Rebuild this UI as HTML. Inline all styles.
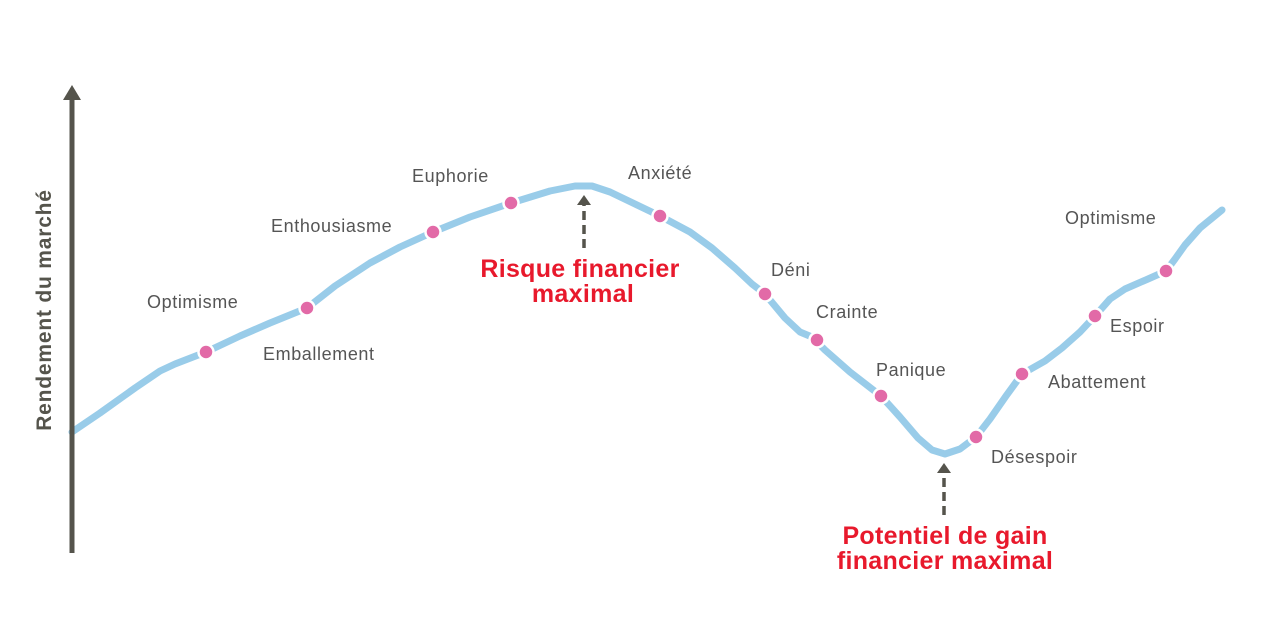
<!DOCTYPE html>
<html><head><meta charset="utf-8"><style>
html,body{margin:0;padding:0;background:#fff;}
svg{display:block;}
text{font-family:"Liberation Sans",sans-serif;}
.l{font-size:18px;fill:#555;letter-spacing:0.6px;}
.r{font-size:25px;fill:#e8192c;font-weight:bold;text-anchor:middle;letter-spacing:0.3px;}
</style></head><body>
<svg width="1280" height="620" viewBox="0 0 1280 620">
<polyline fill="none" stroke="#99cce9" stroke-width="7" stroke-linejoin="round" stroke-linecap="round"
points="72,432 100,413 135,388 160,371 175,364 206,352 240,336 270,323 307,308 335,286 370,263 400,247 433,232 470,217 511,203 550,191 575,186 592,186 610,192 635,204 660,216 690,232 712,248 735,268 752,284 765,294 785,318 800,332 812,337 825,350 850,372 881,396 900,417 918,438 932,450 945,454 960,449 976,437 990,419 1006,396 1022,374 1045,361 1062,348 1080,332 1095,316 1110,299 1125,289 1148,279 1166,271 1175,259 1185,245 1200,228 1222,210"/>
<g fill="#e26aa7" stroke="#fff" stroke-width="2.5">
<circle cx="206" cy="352" r="7.5"/><circle cx="307" cy="308" r="7.5"/><circle cx="433" cy="232" r="7.5"/>
<circle cx="511" cy="203" r="7.5"/><circle cx="660" cy="216" r="7.5"/><circle cx="765" cy="294" r="7.5"/>
<circle cx="817" cy="340" r="7.5"/><circle cx="881" cy="396" r="7.5"/><circle cx="976" cy="437" r="7.5"/>
<circle cx="1022" cy="374" r="7.5"/><circle cx="1095" cy="316" r="7.5"/><circle cx="1166" cy="271" r="7.5"/>
</g>
<line x1="72" y1="553" x2="72" y2="98" stroke="#55544c" stroke-width="5"/>
<polygon points="72,85 63,100 81,100" fill="#55544c"/>
<text transform="translate(51,310) rotate(-90)" text-anchor="middle" style="font-size:21px;font-weight:bold;fill:#55544c;letter-spacing:0.8px">Rendement du marché</text>
<line x1="584" y1="248" x2="584" y2="205" stroke="#55544c" stroke-width="3.5" stroke-dasharray="9,5"/>
<polygon points="584,195 577,205 591,205" fill="#55544c"/>
<line x1="944" y1="515" x2="944" y2="473" stroke="#55544c" stroke-width="3.5" stroke-dasharray="9,5"/>
<polygon points="944,463 937,473 951,473" fill="#55544c"/>
<text class="r" x="580" y="277">Risque financier</text>
<text class="r" x="583" y="302">maximal</text>
<text class="r" x="945" y="544">Potentiel de gain</text>
<text class="r" x="945" y="569">financier maximal</text>
<text class="l" x="147" y="308">Optimisme</text>
<text class="l" x="263" y="360">Emballement</text>
<text class="l" x="271" y="232">Enthousiasme</text>
<text class="l" x="412" y="182">Euphorie</text>
<text class="l" x="628" y="179">Anxiété</text>
<text class="l" x="771" y="276">Déni</text>
<text class="l" x="816" y="318">Crainte</text>
<text class="l" x="876" y="376">Panique</text>
<text class="l" x="991" y="463">Désespoir</text>
<text class="l" x="1048" y="388">Abattement</text>
<text class="l" x="1110" y="332">Espoir</text>
<text class="l" x="1065" y="224">Optimisme</text>
</svg>
</body></html>
